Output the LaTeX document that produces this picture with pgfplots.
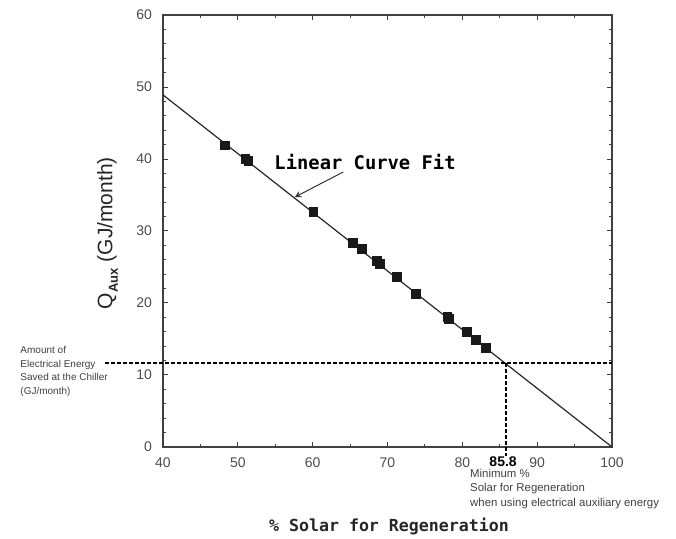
\documentclass[border=0pt]{standalone}
\usepackage{fontspec}
\setmainfont{Liberation Sans}
\newfontfamily\plotfont{DejaVu Sans Mono}
\usepackage{pgfplots}
\pgfplotsset{compat=1.18}
\begin{document}
\begin{tikzpicture}
\useasboundingbox (-81.5pt,-46pt) rectangle (256.5pt,223.5pt);
\begin{axis}[
  at={(0pt,0pt)}, anchor=south west,
  scale only axis, width=224.5pt, height=216pt,
  xmin=40, xmax=100, ymin=0, ymax=60,
  xtick={40,50,...,100}, ytick={0,10,...,60},
  minor x tick num=1, minor y tick num=4,
  tick align=inside, major tick length=2.5pt, minor tick length=1.5pt,
  clip=false,
  axis line style={black!75, line width=0.6pt},
  tick style={black!75, line width=0.5pt},
  tick label style={font=\fontsize{7}{8}\selectfont, text=black!70},
  /pgf/number format/assume math mode=true,
  xticklabel style={yshift=-2pt},
  yticklabel style={xshift=-2pt},
]
\addplot[black!85, line width=0.6pt] coordinates {(40,48.9) (100,0)};
\addplot[only marks, mark=square*, mark size=2.2pt, black!90] coordinates {
  (48.3,41.9) (51.0,40.0) (51.4,39.7) (60.1,32.6) (65.4,28.3) (66.6,27.5)
  (68.6,25.8) (69.0,25.4) (71.3,23.6) (73.8,21.25) (78.0,18.1) (78.2,17.8)
  (80.6,16.0) (81.8,14.9) (83.2,13.75)
};
\addplot[black, line width=0.9pt, dash pattern=on 2pt off 1pt] coordinates {(32.2,11.7) (100,11.7)};
\addplot[black, line width=0.9pt, dash pattern=on 2pt off 1pt] coordinates {(85.8,11.7) (85.8,-1.2)};
\node[font=\plotfont\bfseries\fontsize{9.4}{11}\selectfont] at (axis cs:67,39.6) {Linear Curve Fit};
\draw[-stealth, black!80, line width=0.5pt] (axis cs:64.1,38.2) -- (axis cs:57.6,34.7);
\node[anchor=north west, align=left, inner sep=0pt, text=black!75,
      font=\fontsize{5}{6.75}\selectfont] at (axis cs:20.9,14.0)
  {Amount of\\Electrical Energy\\Saved at the Chiller\\(GJ/month)};
\node[anchor=north west, align=left, inner sep=0pt, text=black!75,
      font=\fontsize{5.7}{7.25}\selectfont] at (axis cs:81.0,-3.0)
  {Minimum \%\\Solar for Regeneration\\when using electrical auxiliary energy};
\node[fill=white, inner sep=0.5pt, font=\bfseries\fontsize{7}{8}\selectfont] at (axis cs:85.45,-2.1) {85.8};
\node[font=\plotfont\bfseries\fontsize{8.3}{10}\selectfont, text=black!85] at (axis cs:70.2,-11.1) {\% Solar for Regeneration};
\node[rotate=90, font=\fontsize{10.5}{12}\selectfont, text=black!85] at (axis cs:32.6,29.7)
  {Q\raisebox{-0.5ex}{\fontsize{6.5}{7}\selectfont\bfseries Aux} (GJ/month)};
\end{axis}
\end{tikzpicture}
\end{document}
